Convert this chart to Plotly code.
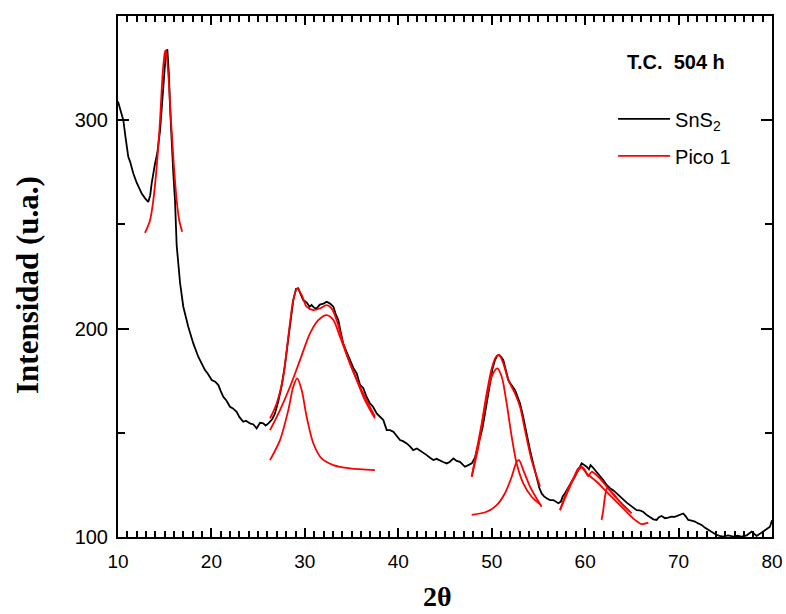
import plotly.graph_objects as go

# ---------------- data ----------------
X_SNS2 = [10.0, 10.3, 10.57, 10.8, 11.1, 11.3, 11.64, 12.0, 12.54, 12.9, 13.24, 13.45, 13.6, 13.96, 14.2,
          14.5, 14.85, 15.1, 15.28, 15.45, 15.57, 15.75, 15.92, 16.1, 16.28, 16.64, 16.99, 17.52, 18.06,
          18.59, 19.0, 19.31, 19.6, 20.03, 20.4, 20.74, 21.0, 21.27, 21.6, 21.99, 22.3, 22.7, 23.0, 23.41,
          23.7, 24.13, 24.5, 24.84, 25.2, 25.55, 25.8, 26.1, 26.5, 26.8, 27.15, 27.5, 27.85, 28.2, 28.5,
          28.76, 29.05, 29.3, 29.55, 29.83, 30.2, 30.5, 30.72, 31.0, 31.27, 31.6, 32.0, 32.34, 32.7, 33.05,
          33.3, 33.58, 33.85, 34.1, 34.45, 34.83, 35.2, 35.55, 35.9, 36.25, 36.6, 36.97, 37.3, 37.69, 38.04,
          38.4, 38.76, 39.1, 39.47, 39.8, 40.18, 40.5, 40.9, 41.25, 41.6, 42.0, 42.3, 42.7, 43.04, 43.4,
          43.75, 44.1, 44.46, 44.8, 45.18, 45.5, 45.9, 46.25, 46.6, 46.9, 47.14, 47.5, 47.86, 48.2, 48.5,
          48.75, 49.0, 49.28, 49.55, 49.82, 50.1, 50.35, 50.6, 50.81, 51.0, 51.24, 51.5, 51.78, 52.1, 52.5,
          52.75, 53.03, 53.3, 53.56, 53.8, 54.1, 54.45, 54.8, 55.1, 55.34, 55.6, 55.88, 56.24, 56.6, 56.9,
          57.13, 57.4, 57.6, 57.84, 58.2, 58.56, 58.85, 59.1, 59.4, 59.63, 59.9, 60.16, 60.4, 60.58, 60.9,
          61.23, 61.6, 61.94, 62.3, 62.66, 63.0, 63.37, 63.7, 64.08, 64.45, 64.8, 65.15, 65.51, 65.85, 66.2,
          66.6, 66.94, 67.3, 67.65, 67.9, 68.19, 68.55, 68.9, 69.25, 69.6, 70.05, 70.5, 70.75, 71.04, 71.4,
          71.75, 72.1, 72.47, 72.8, 73.18, 73.6, 74.07, 74.4, 74.79, 75.3, 75.86, 76.3, 76.75, 77.3, 77.82,
          78.1, 78.35, 78.7, 79.07, 79.45, 79.78, 80.0]
Y_SNS2 = [309, 304, 300, 292, 282.4, 280, 274.4, 270, 264.8, 262.5, 260.8, 264, 269.6, 279.2, 284,
          295, 319, 331, 334, 322, 306.4, 288, 274.4, 261.6, 240, 222, 210.5, 200.9, 192.9,
          186.5, 183, 180.1, 178.5, 175.3, 174.5, 172.9, 170, 167.3, 165.5, 162.5, 161.7, 160.1, 157.5, 155.3,
          155.8, 154.5, 154, 152.1, 154.8, 154.5, 153.5, 154.5, 156.5, 159.3, 165, 172.1, 182, 194.5, 205,
          213.7, 219, 219.3, 216.5, 213.7, 212.5, 210.5, 211.3, 210, 209.7, 211.5, 212, 212.9, 212, 210.5,
          207, 204.1, 198, 192.9, 189, 184.9, 181, 178.5, 173, 171.5, 167.3, 164.1, 162.5, 159.3, 157.7,
          156.1, 151.3, 151.3, 150.5, 148.5, 146.5, 146, 144.9, 143.5, 141.7, 142.5, 141.7, 140.5, 139.3, 138,
          136.9, 137.5, 136.9, 136, 135.3, 136, 137.7, 136.5, 136.1, 135, 133.7, 134.5, 135.3, 138, 143,
          146.5, 152, 159.3, 167, 175.3, 181, 184.9, 187, 187.3, 186.5, 184.9, 180, 175.3, 173, 170.5,
          167.5, 164.1, 159, 152.9, 147.5, 141.7, 135, 128.9, 123.5, 120.9, 119.5, 118.6, 117.7, 117.7, 116.8,
          116.2, 117, 119.5, 121, 124, 126.5, 128.5, 130.5, 133.5, 135.3, 134.5, 133.7, 132.5, 134.5, 133,
          131.3, 129.5, 127.3, 125, 123.4, 122.5, 121, 119.5, 117.7, 116.5, 115.3, 114, 112.9, 112.8, 112.1,
          110.5, 109.7, 108.5, 108.2, 109.5, 110.1, 109, 109.3, 109.8, 109.7, 110.5, 111.3, 110, 108.2, 107.8,
          107.4, 106.5, 105.8, 104.5, 103.4, 102, 101, 100.5, 100.2, 100.8, 100.2, 100.6, 100.2, 100.8, 102.6,
          101.5, 100.5, 101.5, 102.6, 103.5, 104.9, 108]

# Fitted peaks ("Pico 1"), each curve
PICO_15_X = [12.89, 13.43, 13.78, 14.14, 14.5, 14.78, 15.03, 15.12, 15.38, 15.67, 15.99, 16.28, 16.55, 16.87]
PICO_15_Y = [245.9, 252, 261.6, 277.6, 300, 322.4, 332.8, 333.5, 322.4, 300, 277.6, 261.6, 252, 246.5]

SUMA_30_X = [26.27, 26.98, 27.69, 28.23, 28.76, 29.18, 29.66, 30.19, 30.9, 31.62, 32.34, 32.86, 33.4, 34.1,
             34.83, 35.55, 36.43, 37.5]
SUMA_30_Y = [156.9, 164.1, 176.9, 196.1, 213.7, 219.3, 216.1, 210.5, 208.9, 209.7, 211.3, 209.7, 204.1, 192.9,
             183.3, 175.3, 165.7, 156.9]

ANCHO_32_X = [26.27, 27.34, 28.41, 29.48, 30.55, 31.44, 32.34, 33.05, 33.76, 34.83, 35.9, 37.5]
ANCHO_32_Y = [151.3, 160.9, 172.1, 184.9, 197.7, 204.1, 206.5, 204.1, 196.1, 183.3, 172.1, 157.7]

PICO_29_X = [26.27, 27.34, 28.23, 28.76, 29.18, 29.66, 30.19, 30.9, 31.79, 33.05, 34.83, 37.5]
PICO_29_Y = [136.9, 146.5, 160.9, 172.1, 176.1, 170.5, 157.7, 145, 137.7, 134.5, 132.9, 132.1]

SUMA_51_X = [47.86, 48.39, 48.93, 49.46, 50.0, 50.46, 50.81, 51.24, 51.78, 52.49, 53.03, 53.56, 54.27, 55.17]
SUMA_51_Y = [128.9, 141.7, 154.5, 168.9, 180.9, 186.5, 187.3, 183.3, 175.3, 168.9, 162.5, 151.3, 136.9, 124.2]

PICO_51_X = [47.86, 48.57, 49.28, 50.0, 50.6, 51.07, 51.6, 52.14, 52.67, 53.38, 54.27, 55.27]
PICO_51_Y = [128.9, 143.3, 162.5, 176.9, 180.9, 176.9, 164.1, 148.1, 135.3, 125.7, 119.3, 115.3]

PICO_53_X = [47.86, 49.46, 50.53, 51.42, 52.14, 52.67, 52.92, 53.38, 54.1, 55.34]
PICO_53_Y = [110.6, 112.1, 115.3, 121, 128.9, 136.1, 136.9, 132.1, 124.2, 114.5]

SUMA_60_X = [57.31, 58.02, 58.73, 59.27, 59.63, 59.98, 60.34, 60.7, 61.4, 62.3, 63.37, 64.26, 64.98]
SUMA_60_Y = [112.9, 121.7, 128.1, 132.9, 133.7, 132.1, 129.2, 131.3, 128.9, 124.2, 118.6, 114.5, 111.3]

PICO_60_X = [57.31, 58.38, 59.27, 59.63, 60.16, 61.23, 62.3, 63.37, 64.44, 65.33, 66.04, 66.76]
PICO_60_Y = [112.9, 124.2, 132.1, 133.3, 130.5, 126.5, 121.7, 116.9, 112.1, 108.2, 106.2, 106.9]

PICO_62_X = [61.76, 61.94, 62.12, 62.37, 62.83, 63.73, 64.8]
PICO_62_Y = [108.2, 112.9, 119.3, 123.4, 121.7, 116.9, 112.1]

RED_CURVES = [(PICO_15_X, PICO_15_Y), (SUMA_30_X, SUMA_30_Y), (ANCHO_32_X, ANCHO_32_Y),
              (PICO_29_X, PICO_29_Y), (SUMA_51_X, SUMA_51_Y), (PICO_51_X, PICO_51_Y),
              (PICO_53_X, PICO_53_Y), (SUMA_60_X, SUMA_60_Y), (PICO_60_X, PICO_60_Y),
              (PICO_62_X, PICO_62_Y)]

X_RANGE = [10, 80]
Y_RANGE = [100, 350]

SANS = "Arial, Liberation Sans, sans-serif"
SERIF = "Times New Roman, Liberation Serif, serif"

# ---------------- figure ----------------
fig = go.Figure()
fig.add_trace(go.Scatter(x=X_SNS2, y=Y_SNS2, mode="lines", name="SnS<sub>2</sub>",
                         line=dict(color="black", width=1.8), legendgroup="a"))
for i, (cx, cy) in enumerate(RED_CURVES):
    fig.add_trace(go.Scatter(x=cx, y=cy, mode="lines", name="Pico 1",
                             line=dict(color="#ff0000", width=1.8, shape="spline", smoothing=0.8),
                             showlegend=(i == 0), legendgroup="b"))

axis_common = dict(showline=True, linecolor="black", linewidth=2, mirror="allticks",
                   ticks="inside", tickcolor="black", tickwidth=1.6, showgrid=False, zeroline=False,
                   tickmode="linear")

fig.update_xaxes(range=X_RANGE, tick0=10, dtick=10, ticklen=9, ticklabelstandoff=6,
                 tickfont=dict(family=SANS, size=19, color="black"),
                 minor=dict(tick0=10, dtick=1, ticklen=6, ticks="inside", tickcolor="black", tickwidth=1.5),
                 **axis_common)
fig.update_yaxes(range=Y_RANGE, tick0=100, dtick=100, ticklen=11, ticklabelstandoff=4,
                 tickfont=dict(family=SANS, size=20, color="black"),
                 minor=dict(tick0=100, dtick=50, ticklen=7, ticks="inside", tickcolor="black", tickwidth=1.5),
                 **axis_common)

# axis titles
fig.add_annotation(text="<b>2θ</b>", xref="paper", yref="paper", x=0.488, y=-0.1459,
                   xanchor="center", yanchor="bottom", showarrow=False, borderpad=0,
                   font=dict(family=SERIF, size=28, color="black"))
fig.add_annotation(text="<b>Intensidad (u.a.)</b>", xref="paper", yref="paper", x=-0.1376, y=0.4837,
                   xanchor="center", yanchor="middle", showarrow=False, textangle=-90,
                   font=dict(family=SERIF, size=31, color="black"))

fig.add_annotation(text="<b>T.C.  504 h</b>", xref="paper", yref="paper", x=0.853, y=0.912,
                   xanchor="center", yanchor="middle", showarrow=False,
                   font=dict(family=SANS, size=20, color="black"))

fig.update_layout(
    width=786, height=614,
    margin=dict(l=118, r=14, t=16, b=77, autoexpand=False),
    paper_bgcolor="white", plot_bgcolor="white",
    showlegend=True,
    legend=dict(x=0.757, y=0.84, xanchor="left", yanchor="top", bgcolor="rgba(0,0,0,0)",
                font=dict(family=SANS, size=20, color="black"), traceorder="grouped",
                tracegroupgap=8, itemwidth=52),
)

fig.write_html("out.html")
